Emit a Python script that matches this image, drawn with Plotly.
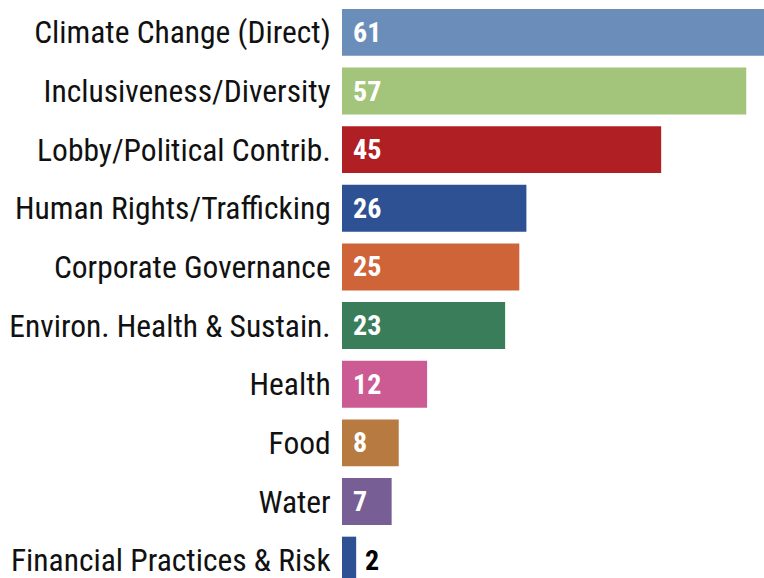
import plotly.graph_objects as go

categories = [
    "Climate Change (Direct)",
    "Inclusiveness/Diversity",
    "Lobby/Political Contrib.",
    "Human Rights/Trafficking",
    "Corporate Governance",
    "Environ. Health & Sustain.",
    "Health",
    "Food",
    "Water",
    "Financial Practices & Risk",
]
values = [61, 57, 45, 26, 25, 23, 12, 8, 7, 2]
colors = ["#6B8DB9", "#A3C47B", "#AF1F24", "#2E5193", "#D06439",
          "#3A7D5A", "#CD5B93", "#B77A40", "#775E94", "#2E5193"]
label_inside = [True, True, True, True, True, True, True, True, True, False]

FONT = "Roboto Condensed, Archivo Narrow, Roboto, sans-serif"

fig = go.Figure(go.Bar(
    x=values, y=categories, orientation="h",
    marker=dict(color=colors, line=dict(width=0)),
    hoverinfo="skip",
))

ann = []
for c, v, inside in zip(categories, values, label_inside):
    if inside:
        ann.append(dict(x=0, y=c, xref="x", yref="y", text=str(v), showarrow=False,
                        xanchor="left", yanchor="middle", xshift=9, yshift=0,
                        font=dict(family=FONT, size=28, color="white", weight="bold")))
    else:
        ann.append(dict(x=v, y=c, xref="x", yref="y", text=str(v), showarrow=False,
                        xanchor="left", yanchor="middle", xshift=7, yshift=0,
                        font=dict(family=FONT, size=28, color="black", weight="bold")))

fig.update_layout(
    width=764, height=578,
    margin=dict(l=342, r=0, t=0, b=0, autoexpand=False),
    paper_bgcolor="white", plot_bgcolor="white",
    bargap=0.2,
    showlegend=False,
    annotations=ann,
    xaxis=dict(range=[0, 59.5], visible=False, fixedrange=True, automargin=False),
    yaxis=dict(range=[9.305, -0.552], showgrid=False, zeroline=False, showline=False,
               automargin=False,
               ticks="outside", ticklen=4, tickcolor="rgba(0,0,0,0)",
               tickfont=dict(family=FONT, size=31.5, color="#111111"), fixedrange=True),
)

fig.write_html("out.html", config={"displayModeBar": False},
               post_script="document.body.style.margin='0';")
